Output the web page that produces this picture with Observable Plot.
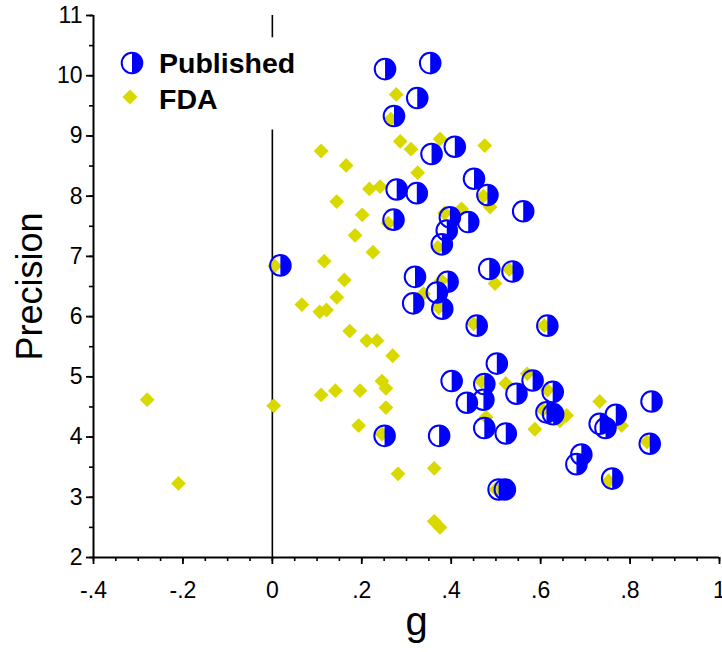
<!DOCTYPE html>
<html>
<head>
<meta charset="utf-8">
<script src="https://cdn.jsdelivr.net/npm/d3@7"></script>
<script src="https://cdn.jsdelivr.net/npm/@observablehq/plot@0.6"></script>
<style>
  body { margin: 0; background: #fff; }
  #wrap { position: relative; width: 722px; height: 652px; font-family: "Liberation Sans", Arial, sans-serif; }
  .leg { position: absolute; font-weight: bold; font-size: 28.5px; line-height: 28px; color: #000; white-space: nowrap; }
  .legsym { position: absolute; }
</style>
</head>
<body>
<div id="wrap"></div>
<script>
// Published studies: g (effect size) and precision
const pubG = [0.252, 0.353, 0.324, 0.272, 0.356, 0.408, 0.278, 0.323, 0.451, 0.481,
              0.561, 0.271, 0.397, 0.438, 0.390, 0.379, 0.018, 0.319, 0.392, 0.368,
              0.315, 0.380, 0.485, 0.537, 0.457, 0.615, 0.502, 0.401, 0.474, 0.435,
              0.472, 0.582, 0.546, 0.627, 0.613, 0.628, 0.474, 0.522, 0.848, 0.768,
              0.732, 0.745, 0.844, 0.691, 0.680, 0.760, 0.506, 0.520, 0.251, 0.373];
const pubP = [10.11, 10.21, 9.63, 9.33, 8.70, 8.82, 8.11, 8.05, 8.29, 8.02,
              7.75, 7.61, 7.65, 7.57, 7.43, 7.20, 6.85, 6.66, 6.58, 6.40,
              6.22, 6.13, 6.79, 6.75, 5.85, 5.85, 5.22, 4.93, 4.88, 4.57,
              4.62, 4.94, 4.72, 4.75, 4.41, 4.38, 4.15, 4.06, 4.59, 4.37,
              4.22, 4.15, 3.89, 3.71, 3.55, 3.31, 3.13, 3.13, 4.02, 4.02];

// FDA studies: g and precision
const fdaG = [-0.280, -0.210, 0.003, 0.005, 0.066, 0.106, 0.121, 0.109, 0.165, 0.144,
              0.201, 0.185, 0.225, 0.116, 0.161, 0.144, 0.173, 0.211, 0.234, 0.269,
              0.109, 0.141, 0.196, 0.245, 0.254, 0.254, 0.193, 0.281, 0.362, 0.362,
              0.375, 0.217, 0.241, 0.277, 0.286, 0.310, 0.375, 0.325, 0.423, 0.475,
              0.487, 0.338, 0.498, 0.522, 0.570, 0.587, 0.658, 0.643, 0.732, 0.781,
              0.478, 0.265, 0.259, 0.385, 0.370, 0.378, 0.372, 0.472, 0.530, 0.450,
              0.608, 0.468, 0.615, 0.605, 0.245, 0.838, 0.752, 0.500];
const fdaP = [4.62, 3.23, 4.52, 6.84, 6.20, 6.08, 6.11, 8.75, 8.51, 7.91,
              7.69, 7.35, 7.07, 6.92, 6.61, 6.32, 5.76, 5.60, 5.60, 5.35,
              4.70, 4.77, 4.77, 4.93, 4.81, 4.49, 4.19, 3.39, 3.48, 2.60,
              2.50, 8.12, 8.16, 9.69, 8.91, 8.78, 8.95, 8.39, 7.79, 8.84,
              7.82, 6.38, 6.55, 4.89, 5.05, 4.13, 4.36, 4.27, 4.59, 4.19,
              4.33, 9.28, 7.55, 7.72, 7.15, 6.60, 6.15, 8.00, 6.78, 5.88,
              5.85, 4.92, 4.78, 4.45, 4.05, 3.92, 3.27, 3.13];

const xTicks = [-0.4, -0.2, 0, 0.2, 0.4, 0.6, 0.8, 1.0];
const xTickLabels = ["-.4", "-.2", "0", ".2", ".4", ".6", ".8", "1"];
const xMinor = d3.range(-0.4, 1.0001, 0.05).map(v => +v.toFixed(2));
const yTicks = [2, 3, 4, 5, 6, 7, 8, 9, 10, 11];
const yMinor = d3.range(2, 11.0001, 0.5);
const seriesNames = ["Published", "FDA"];

const BLUE = "#0000ff";
const YELLOW = "#d9d900";

const rightHalf = {
  draw(ctx, size) {
    const r = Math.sqrt(size / Math.PI);
    ctx.moveTo(0, -r);
    ctx.arc(0, 0, r, -Math.PI / 2, Math.PI / 2);
    ctx.closePath();
  }
};
const squareDiamond = {
  draw(ctx, size) {
    const r = Math.sqrt(size / Math.PI);
    ctx.moveTo(0, -r);
    ctx.lineTo(r, 0);
    ctx.lineTo(0, r);
    ctx.lineTo(-r, 0);
    ctx.closePath();
  }
};

const pub = pubG.map((g, i) => ({g, p: pubP[i]}));
const fda = fdaG.map((g, i) => ({g, p: fdaP[i]}));

const chart = Plot.plot({
  width: 722,
  height: 652,
  marginLeft: 93,
  marginRight: 3,
  marginTop: 15,
  marginBottom: 95,
  x: {domain: [-0.4, 1.0]},
  y: {domain: [2, 11]},
  style: {fontFamily: "'Liberation Sans', Arial, sans-serif", color: "#000", background: "#fff"},
  marks: [
    // minor ticks
    Plot.axisX({ticks: xMinor, tickSize: 4, tickFormat: () => "", label: null, strokeWidth: 1.6}),
    Plot.axisY({ticks: yMinor, tickSize: 4, tickFormat: () => "", label: null, strokeWidth: 1.6}),
    // major ticks
    Plot.axisX({ticks: xTicks, tickSize: 7, tickPadding: 17, fontSize: 23,
                tickFormat: d => xTickLabels[xTicks.findIndex(t => Math.abs(t - d) < 1e-9)],
                label: null, strokeWidth: 1.8}),
    Plot.axisY({ticks: yTicks, tickSize: 7, tickPadding: 4, fontSize: 23, label: null, strokeWidth: 1.8}),
    // axis lines
    Plot.ruleY([2], {x1: -0.4, x2: 1.0, stroke: "#000", strokeWidth: 2}),
    Plot.ruleX([-0.4], {y1: 2, y2: 11, stroke: "#000", strokeWidth: 2}),
    // zero line (interrupted by the legend)
    Plot.ruleX([0], {y1: 10.63, y2: 11, stroke: "#000", strokeWidth: 1.6}),
    Plot.ruleX([0], {y1: 2, y2: 9.10, stroke: "#000", strokeWidth: 1.6}),
    // FDA diamonds
    Plot.dot(fda, {x: "g", y: "p", symbol: squareDiamond, r: 7.4, fill: YELLOW, stroke: "none"}),
    // Published half-filled circles
    Plot.dot(pub, {x: "g", y: "p", symbol: rightHalf, r: 10.3, fill: BLUE, stroke: "none"}),
    Plot.dot(pub, {x: "g", y: "p", r: 10.3, fill: "none", stroke: BLUE, strokeWidth: 2}),
    // axis titles
    Plot.text(["Precision"], {frameAnchor: "left", dx: -63, rotate: -90, fontSize: 36, textAnchor: "middle", fill: "#000"}),
    Plot.text(["g"], {frameAnchor: "bottom", dx: 10, dy: 77, fontSize: 40, textAnchor: "middle", fill: "#000"})
  ]
});

const wrap = document.getElementById("wrap");
wrap.appendChild(chart);

// legend overlay
function addLegend(name, top, symTop, symSvg) {
  const s = document.createElement("div");
  s.className = "legsym";
  s.style.left = "118px";
  s.style.top = symTop + "px";
  s.innerHTML = symSvg;
  wrap.appendChild(s);
  const t = document.createElement("div");
  t.className = "leg";
  t.style.left = "159px";
  t.style.top = top + "px";
  t.textContent = name;
  wrap.appendChild(t);
}
addLegend(seriesNames[0], 49, 49,
  `<svg width="28" height="28" viewBox="-14 -14 28 28"><path d="M0,-10.3A10.3,10.3,0,0,1,0,10.3Z" fill="${BLUE}"/><circle r="10.3" fill="none" stroke="${BLUE}" stroke-width="2"/></svg>`);
addLegend(seriesNames[1], 85, 83,
  `<svg width="24" height="28" viewBox="-12 -14 24 28"><path d="M0,-7.6L7.6,0L0,7.6L-7.6,0Z" fill="${YELLOW}"/></svg>`);
</script>
</body>
</html>
